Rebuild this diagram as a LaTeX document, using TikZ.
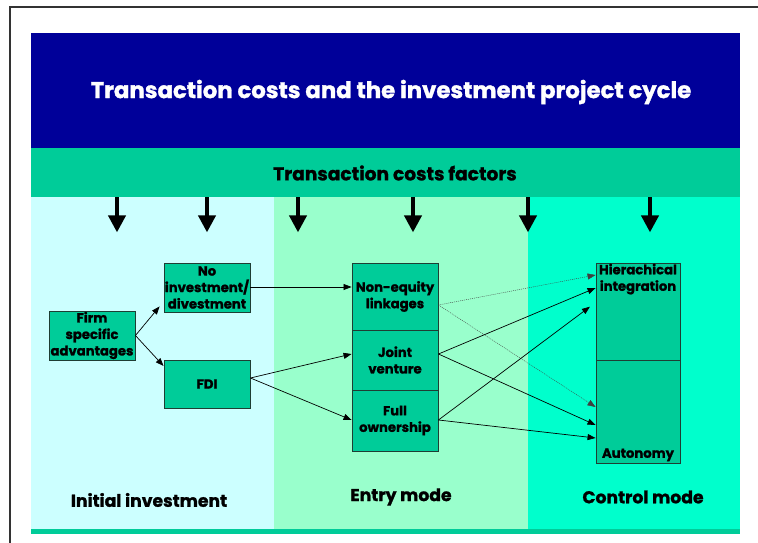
\documentclass[tikz,border=0pt]{standalone}
\usepackage{fontspec}
\setmainfont{Poppins}[BoldFeatures={FakeBold=1.2}]
\usetikzlibrary{arrows.meta,calc}
\definecolor{ban}{HTML}{000099}
\definecolor{band}{HTML}{00CC99}
\definecolor{colA}{HTML}{CCFFFF}
\definecolor{colB}{HTML}{99FFCC}
\definecolor{colC}{HTML}{00FFCC}
\definecolor{boxfill}{HTML}{00CC99}
\definecolor{boxline}{HTML}{1E3D33}
\definecolor{frame}{HTML}{333333}
\begin{document}
\begin{tikzpicture}[x=1pt,y=-1pt,
  box/.style={draw=boxline, fill=boxfill, line width=0.9pt, inner sep=0pt, align=center,
    font=\bfseries\fontsize{13.2}{16.5}\selectfont},
  lbl/.style={inner sep=0pt, align=center, font=\bfseries\fontsize{13.2}{16.5}\selectfont},
  thinarr/.style={-{Triangle[length=8pt,width=6pt]}, line width=0.7pt, black},
  dotarr/.style={-{Triangle[length=8pt,width=6pt]}, line width=0.4pt, black!75, dash pattern=on 1pt off 1pt},
  downarr/.style={-{Triangle[length=17pt,width=17pt]}, line width=4pt, black},
  colhead/.style={inner sep=0pt, font=\bfseries\fontsize{17.2}{20}\selectfont}]
\useasboundingbox (0,0) rectangle (758,543);
\fill[white] (0,0) rectangle (758,543);
\draw[line width=1.6pt, frame] (10,560) -- (10,7) -- (770,7);
% banner and columns
\node[fill=ban, inner sep=0pt, minimum width=709, minimum height=115, anchor=north west] (banner) at (31,33) {};
\node[fill=band, inner sep=0pt, minimum width=709, minimum height=49, anchor=north west] (tband) at (31,148) {};
\fill[colA] (31,197) rectangle (274,529);
\fill[colB] (274,197) rectangle (528,529);
\fill[colC] (528,197) rectangle (740,529);
\fill[band] (31,529) rectangle (740,534);
% titles
\node[text=white, inner sep=0pt, font=\bfseries\fontsize{22.8}{26}\selectfont] (title) at (391,92) {Transaction costs and the investment project cycle};
\node[inner sep=0pt, font=\bfseries\fontsize{18.6}{22}\selectfont] (tcf) at (395,173) {Transaction costs factors};
% down arrows
\foreach \xx in {117,207,298,413,528,650}
  \draw[downarr] (tband.south -| \xx,0) -- ++(0,35);
% boxes
\node[box, minimum width=86, minimum height=49] (fsa) at (92,335.5) {Firm\\specific\\advantages};
\node[box, minimum width=86, minimum height=49] (ni) at (207,287.5) {No\\investment/\\divestment};
\node[box, minimum width=86, minimum height=48] (fdi) at (207,384) {FDI};
\node[box, minimum width=86, minimum height=67] (ne) at (395,296.5) {Non-equity\\linkages};
\node[box, minimum width=86, minimum height=60] (jv) at (395,360) {Joint\\venture};
\node[box, minimum width=86, minimum height=61] (fo) at (395,420.5) {Full\\ownership};
\node[box, minimum width=84, minimum height=97] (hi) at (638,311.5) {};
\node[box, minimum width=84, minimum height=103] (au) at (638,411.5) {};
\node[lbl, anchor=north] (hiT) at ([yshift=-1pt]hi.north) {Hierachical\\integration};
\node[lbl, anchor=south] (auT) at ([yshift=2pt]au.south) {Autonomy};
% column headings
\node[colhead] (h1) at (149,500) {Initial investment};
\node[colhead] (h2) at (401,497) {Entry mode};
\node[colhead] (h3) at (643,497) {Control mode};
% connectors
\draw[thinarr] (fsa.east) -- ([shift={(-4,-6)}]ni.south west);
\draw[thinarr] (fsa.east) -- (fdi.west |- 0,366);
\draw[thinarr] (ni.east |- 0,287) -- (ne.west |- 0,287);
\draw[thinarr] (fdi.east |- 0,378) -- (jv.west |- 0,354);
\draw[thinarr] (fdi.east |- 0,378) -- (fo.west |- 0,420);
\draw[dotarr] (ne.east |- 0,305) -- (hi.west |- 0,275);
\draw[dotarr] (ne.east |- 0,305) -- (au.west |- 0,407);
\draw[thinarr] (jv.east |- 0,354) -- (hi.west |- 0,288);
\draw[thinarr] (jv.east |- 0,354) -- (au.west |- 0,425);
\draw[thinarr, shorten >=7pt] (fo.east |- 0,420) -- (hi.west |- 0,302.5);
\draw[thinarr] (fo.east |- 0,420) -- (au.west |- 0,438);
\end{tikzpicture}
\end{document}
